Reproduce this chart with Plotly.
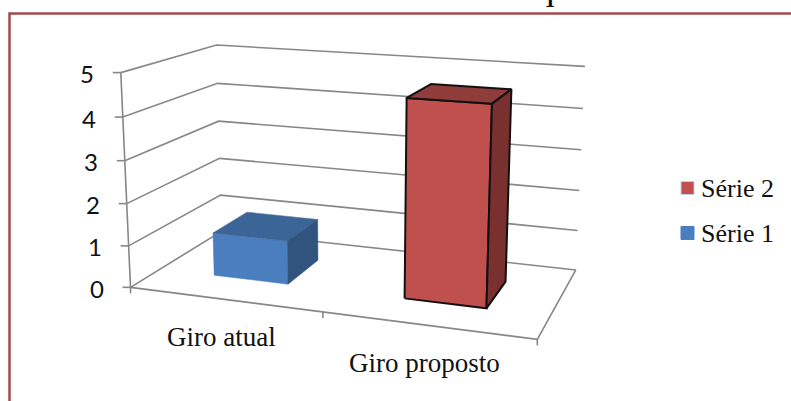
import numpy as np
import plotly.graph_objects as go

# ---- chart data -------------------------------------------------------
categories = ["Giro atual", "Giro proposto"]
series_names = ["Série 1", "Série 2"]
serie_1 = [1.05, 0.0]
serie_2 = [0.0, 4.6]
value_ticks = [0, 1, 2, 3, 4, 5]

# ---- page / styling ---------------------------------------------------
W, H = 791, 401
SERIF = "Liberation Serif, Times New Roman, serif"
SANS = "Lato, Liberation Sans, Arial, sans-serif"
GRID = "#878787"

series_style = {
    "Série 1": dict(front="#4A7EBE", top="#3C6597", side="#31547F", edge=None),
    "Série 2": dict(front="#C0504D", top="#8F3C3A", side="#7A302F", edge="#111111"),
}

# ---- 3-D plot box and perspective camera ------------------------------
# world axes: category 0..n (left->right), depth 0 (front)..1 (back), value 0..max
n_cat = len(categories)
z_max = value_ticks[-1]
BAR_FRAC = 0.4     # gap width 150 %
DEPTH_FRAC = 0.4   # gap depth 150 %

# placement of the plot box on the page (corners / wall levels)
box_world = [(0, 0, 0), (n_cat, 0, 0), (0, 1, 0), (n_cat, 1, 0),
             (0, 0, z_max), (0, 1, z_max), (n_cat, 1, z_max),
             (0, 0, 1), (0, 0, 3), (0, 1, 1), (0, 1, 4)]
box_screen = [(132, 287), (537, 341), (220, 233), (576, 268),
              (121, 73), (217, 45), (585, 67),
              (128, 245), (124, 160), (222, 195), (217, 83)]

CX, CY, S = 400.0, 200.0, 300.0


def fit_camera(world, screen):
    rows = []
    for (X, Y, Z), (u, v) in zip(world, screen):
        u = (u - CX) / S
        v = (v - CY) / S
        rows.append([X, Y, Z, 1, 0, 0, 0, 0, -u * X, -u * Y, -u * Z, -u])
        rows.append([0, 0, 0, 0, X, Y, Z, 1, -v * X, -v * Y, -v * Z, -v])
    _, _, vt = np.linalg.svd(np.asarray(rows, float))
    return vt[-1].reshape(3, 4)


CAM = fit_camera(box_world, box_screen)


def project(X, Y, Z):
    p = CAM @ np.array([X, Y, Z, 1.0])
    return p[0] / p[2] * S + CX, p[1] / p[2] * S + CY


def polyline(points):
    xs, ys = [], []
    for seg in points:
        for P in seg:
            u, v = project(*P)
            xs.append(u)
            ys.append(v)
        xs.append(None)
        ys.append(None)
    return xs, ys


fig = go.Figure()

# ---- walls, floor and gridlines --------------------------------------
segs = []
for z in value_ticks:
    segs.append([(0, 0, z), (0, 1, z), (n_cat, 1, z)])       # side wall + back wall
segs.append([(0, 0, 0), (n_cat, 0, 0), (n_cat, 1, 0)])      # floor front + right edge
segs.append([(0, 0, 0), (0, 0, z_max)])                      # value axis
gx, gy = polyline(segs)
fig.add_trace(go.Scatter(x=gx, y=gy, mode="lines",
                         line=dict(color=GRID, width=1.6),
                         hoverinfo="skip", showlegend=False))

# tick marks
tx, ty = [], []
for z in value_ticks:
    u, v = project(0, 0, z)
    tx += [u - 8, u, None]
    ty += [v, v, None]
for i in range(n_cat + 1):
    u, v = project(i, 0, 0)
    tx += [u, u, None]
    ty += [v, v + 6, None]
fig.add_trace(go.Scatter(x=tx, y=ty, mode="lines",
                         line=dict(color=GRID, width=1.6),
                         hoverinfo="skip", showlegend=False))

# ---- stacked 3-D columns ---------------------------------------------
values = {"Série 1": serie_1, "Série 2": serie_2}
base = [0.0] * n_cat
for name in series_names:
    st = series_style[name]
    for i, val in enumerate(values[name]):
        if val <= 0:
            continue
        x0 = i + (1 - BAR_FRAC) / 2
        x1 = x0 + BAR_FRAC
        y0 = (1 - DEPTH_FRAC) / 2
        y1 = y0 + DEPTH_FRAC
        z0, z1 = base[i], base[i] + val
        faces = [
            ([(x0, y0, z0), (x1, y0, z0), (x1, y0, z1), (x0, y0, z1)], st["front"]),
            ([(x0, y0, z1), (x1, y0, z1), (x1, y1, z1), (x0, y1, z1)], st["top"]),
            ([(x1, y0, z0), (x1, y1, z0), (x1, y1, z1), (x1, y0, z1)], st["side"]),
        ]
        for pts, col in faces:
            pts = pts + [pts[0]]
            xs, ys = zip(*[project(*P) for P in pts])
            fig.add_trace(go.Scatter(
                x=list(xs), y=list(ys), mode="lines", fill="toself",
                fillcolor=col,
                line=dict(color=st["edge"] or col, width=2 if st["edge"] else 0.5),
                hoverinfo="skip", showlegend=False))
        base[i] = z1

# ---- axis labels -----------------------------------------------------
ann = []
for z in value_ticks:
    u, v = project(0, 0, z)
    ann.append(dict(x=u - 25, y=v + 1, xref="x", yref="y", text=str(z),
                    showarrow=False, xanchor="right", yanchor="middle",
                    font=dict(family=SANS, size=24, color="#111111")))
for i, cat in enumerate(categories):
    u, v = project(i + 0.5, 0, 0)
    ann.append(dict(x=u - 3, y=v + 38, xref="x", yref="y", text=cat,
                    showarrow=False, xanchor="center", yanchor="middle",
                    font=dict(family=SERIF, size=27, color="#111111")))

# ---- legend ----------------------------------------------------------
shapes = []
legend_rows = list(reversed(series_names))
for k, name in enumerate(legend_rows):
    yc = 188 + 45 * k
    shapes.append(dict(type="rect", xref="x", yref="y",
                       x0=681, x1=694, y0=yc - 6.5, y1=yc + 6.5,
                       fillcolor=series_style[name]["front"],
                       line=dict(color="#C3CFE2" if k == 0 else series_style[name]["front"], width=1)))
    ann.append(dict(x=699, y=yc, xref="x", yref="y", text=name, showarrow=False,
                    xanchor="left", yanchor="middle",
                    font=dict(family=SERIF, size=26, color="#111111")))

# ---- title (sits above the chart frame) ------------------------------
ann.append(dict(x=404 / W, y=1 - 9 / H, xref="paper", yref="paper",
                text="Gráfico Giro de Estoque", showarrow=False,
                xanchor="center", yanchor="bottom",
                font=dict(family=SERIF, size=38, color="#111111")))

# ---- chart frame -----------------------------------------------------
shapes.append(dict(type="rect", xref="x", yref="y", x0=9.5, y0=13.5, x1=W + 20, y1=H + 20,
                   line=dict(color="#A24A4D", width=2.5), fillcolor="rgba(0,0,0,0)",
                   layer="above"))

fig.update_layout(
    width=W, height=H,
    margin=dict(l=0, r=0, t=0, b=0),
    paper_bgcolor="white", plot_bgcolor="white",
    xaxis=dict(range=[0, W], visible=False, fixedrange=True),
    yaxis=dict(range=[H, 0], visible=False, fixedrange=True),
    annotations=ann, shapes=shapes, showlegend=False,
)

fig.write_html("out.html")
